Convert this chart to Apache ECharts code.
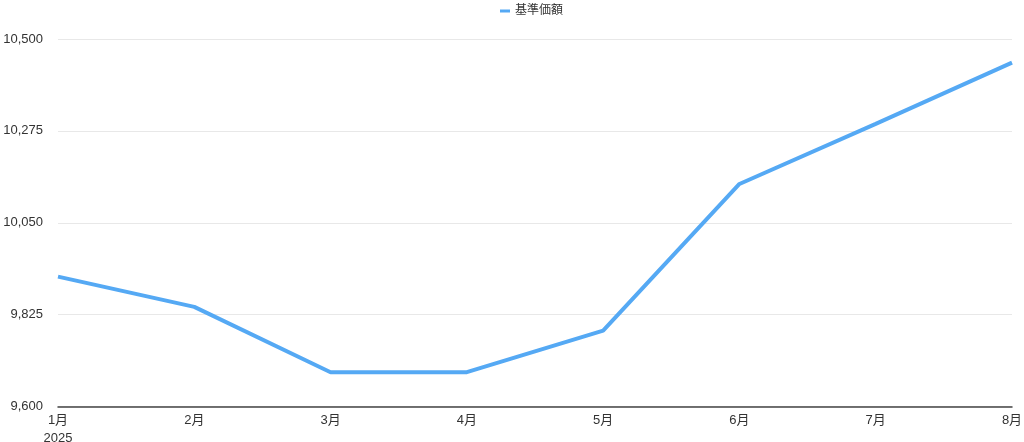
<!DOCTYPE html>
<html><head><meta charset="utf-8">
<script src="https://cdn.jsdelivr.net/npm/echarts@6/dist/echarts.min.js"></script>
<style>html,body{margin:0;padding:0;background:#fff}#c{width:1024px;height:442px}</style>
</head><body><div id="c"></div>
<script>
const categories = ['1月','2月','3月','4月','5月','6月','7月','8月'];
const yearLabel = '2025';
const seriesName = '基準価額';
const values = [9918, 9844, 9684, 9684, 9786, 10145, 10292, 10442];
const yTicks = [9600, 9825, 10050, 10275, 10500];

const FONT = 'Helvetica, "Liberation Sans", "Noto Sans CJK JP", sans-serif';
const chart = echarts.init(document.getElementById('c'), null, {renderer:'canvas'});
chart.setOption({
  animation: false,
  textStyle: {fontFamily: FONT},
  legend: {
    data: [seriesName], top: 0, left: 495,
    icon: 'rect', itemWidth: 10, itemHeight: 3, itemGap: 10,
    textStyle: {fontSize: 12, color: '#333', fontFamily: FONT}
  },
  grid: {left: 58, right: 12, top: 39, bottom: 35.5, containLabel: false, outerBoundsMode: 'none'},
  xAxis: {
    type: 'category', data: categories, boundaryGap: false,
    axisLine: {lineStyle: {color: '#444', width: 1.5}},
    axisTick: {show: false},
    axisLabel: {
      margin: 5, fontSize: 13, color: '#333', lineHeight: 18, fontFamily: FONT,
      formatter: (v, i) => i === 0 ? v + '\n' + yearLabel : v
    }
  },
  yAxis: {
    type: 'value', min: yTicks[0], max: yTicks[yTicks.length-1], interval: yTicks[1]-yTicks[0],
    axisLine: {show: false}, axisTick: {show: false},
    splitLine: {lineStyle: {color: '#e8e8e8', width: 1}},
    axisLabel: {margin: 15, fontSize: 13, color: '#333', fontFamily: FONT,
      formatter: v => v.toLocaleString('en-US')}
  },
  series: [{
    name: seriesName, type: 'line', data: values,
    showSymbol: false, symbol: 'none',
    lineStyle: {color: '#55a9f4', width: 4},
    itemStyle: {color: '#55a9f4'}
  }]
});
</script></body></html>
